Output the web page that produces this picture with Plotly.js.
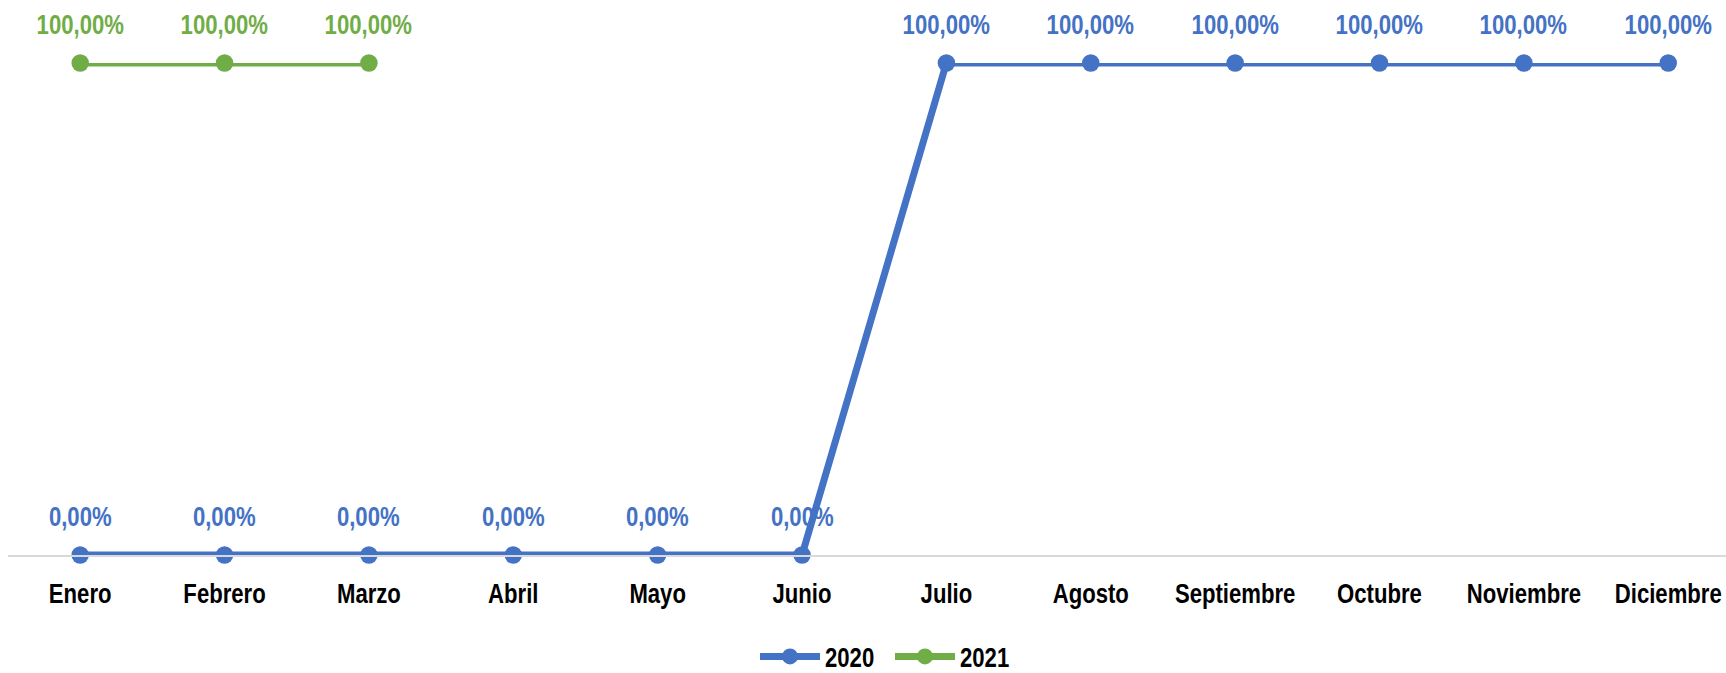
<!DOCTYPE html>
<html>
<head>
<meta charset="utf-8">
<script src="https://cdn.plot.ly/plotly-3.0.1.min.js"></script>
<style>html,body{margin:0;padding:0;background:#fff;}#chart{width:1726px;height:673px;}</style>
</head>
<body>
<div id="chart"></div>
<script>
const months = ["Enero","Febrero","Marzo","Abril","Mayo","Junio","Julio","Agosto","Septiembre","Octubre","Noviembre","Diciembre"];
const values2020 = [0,0,0,0,0,0,1,1,1,1,1,1];
const values2021 = [1,1,1,null,null,null,null,null,null,null,null,null];
const labels2020 = ["0,00%","0,00%","0,00%","0,00%","0,00%","0,00%","100,00%","100,00%","100,00%","100,00%","100,00%","100,00%"];
const labels2021 = ["100,00%","100,00%","100,00%","","","","","","","","",""];

const FONT = '"Liberation Sans", Arial, sans-serif';
const BLUE = '#4472C4', GREEN = '#70AD47';
const NARROW = 0.82;

const traces = [
  {
    x: months, y: values2020, name: '2020', type: 'scatter', mode: 'lines+markers',
    line: {color: BLUE, width: 7}, marker: {color: BLUE, size: 17.5},
    cliponaxis: false, hoverinfo: 'skip'
  },
  {
    x: months, y: values2021, name: '2021', type: 'scatter', mode: 'lines+markers',
    line: {color: GREEN, width: 7}, marker: {color: GREEN, size: 17.5},
    cliponaxis: false, hoverinfo: 'skip', connectgaps: false
  }
];

const annotations = [];
function addLabels(vals, labels, color) {
  vals.forEach((v, i) => {
    if (v === null || labels[i] === '') return;
    annotations.push({
      x: months[i], y: v, xref: 'x', yref: 'y', text: labels[i], showarrow: false,
      yshift: 38, font: {family: FONT, size: 27, color: color, weight: 'bold'}
    });
  });
}
addLabels(values2020, labels2020, BLUE);
addLabels(values2021, labels2021, GREEN);

const layout = {
  width: 1726, height: 673,
  margin: {l: 8, r: 0, t: 63, b: 118, autoexpand: false},
  paper_bgcolor: '#fff', plot_bgcolor: '#fff',
  font: {family: FONT, size: 27, color: '#000'},
  showlegend: true,
  legend: {
    orientation: 'h', x: 0.4348, xanchor: 'left', y: -0.207, yanchor: 'middle',
    font: {family: FONT, size: 27, color: '#000', weight: 'bold'},
    traceorder: 'normal', itemwidth: 60, entrywidth: 60, entrywidthmode: 'pixels'
  },
  annotations: annotations,
  xaxis: {
    type: 'category', range: [-0.5, 11.4], showgrid: false, zeroline: false,
    showline: true, linecolor: '#d9d9d9', linewidth: 2,
    ticks: '', ticklabelstandoff: 14,
    tickfont: {family: FONT, size: 27, color: '#000', weight: 'bold'},
    fixedrange: true
  },
  yaxis: {
    range: [0, 1], visible: false, showgrid: false, zeroline: false, fixedrange: true
  }
};

// Arial Narrow is not installed: condense Liberation Sans horizontally to the same 82% proportion
function condense(gd) {
  gd.querySelectorAll('svg text').forEach(t => {
    if (!t.textContent) return;
    const bb = t.getBBox();
    const anchor = t.getAttribute('text-anchor') || getComputedStyle(t).textAnchor || 'start';
    let cx = bb.x;
    if (anchor === 'middle') cx = bb.x + bb.width / 2;
    else if (anchor === 'end') cx = bb.x + bb.width;
    const prev = t.getAttribute('transform') || '';
    t.setAttribute('transform', prev + ' translate(' + cx + ',0) scale(' + NARROW + ',1) translate(' + (-cx) + ',0)');
  });
}

Plotly.newPlot('chart', traces, layout, {displayModeBar: false, staticPlot: true}).then(gd => condense(gd));
</script>
</body>
</html>
